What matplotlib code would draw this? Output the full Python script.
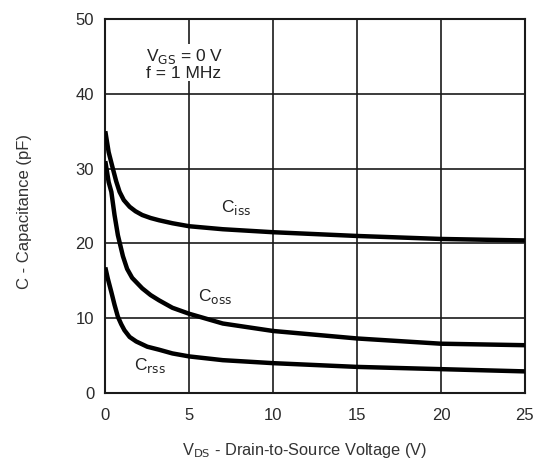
import numpy as np
import matplotlib
matplotlib.use('Agg')
from matplotlib import pyplot as plt

plt.rcParams['font.family'] = ['Liberation Sans', 'DejaVu Sans']

v_iss = [0, 0.2, 0.45, 0.65, 0.85, 1.1, 1.45, 1.8, 2.2, 2.7, 3.2, 4.0, 5.0, 7.0, 10, 15, 20, 25]
c_iss = [35.0, 32.2, 30.0, 28.3, 26.9, 25.8, 24.9, 24.3, 23.8, 23.4, 23.1, 22.7, 22.3, 21.9, 21.5, 21.0, 20.6, 20.4]

v_oss = [0, 0.2, 0.36, 0.55, 0.75, 1.05, 1.3, 1.6, 2.2, 2.7, 3.2, 4.0, 5.0, 7.0, 10, 15, 20, 25]
c_oss = [31.0, 28.2, 26.9, 23.8, 21.1, 18.3, 16.6, 15.4, 14.0, 13.1, 12.4, 11.4, 10.6, 9.3, 8.3, 7.3, 6.6, 6.4]

v_rss = [0, 0.15, 0.36, 0.55, 0.75, 0.95, 1.14, 1.45, 1.84, 2.5, 3.2, 4.0, 5.0, 7.0, 10, 15, 20, 25]
c_rss = [16.8, 15.3, 13.5, 11.8, 10.2, 9.2, 8.4, 7.5, 6.9, 6.2, 5.8, 5.3, 4.9, 4.4, 4.0, 3.5, 3.2, 2.9]

xticks = [0, 5, 10, 15, 20, 25]
yticks = [0, 10, 20, 30, 40, 50]

fig = plt.figure(figsize=(5.4, 4.63), dpi=100)
ax = fig.add_axes([0.195, 0.151, 0.777, 0.808])

for v, c in [(v_iss, c_iss), (v_oss, c_oss), (v_rss, c_rss)]:
    ax.plot(v, c, color='black', lw=3.2, solid_capstyle='butt', solid_joinstyle='round', zorder=3)

ax.set_xlim(0, 25)
ax.set_ylim(0, 50)
ax.set_xticks(xticks)
ax.set_yticks(yticks)
ax.grid(True, color='#1a1a1a', lw=1.2)
ax.set_axisbelow(True)
for s in ax.spines.values():
    s.set_color('#1a1a1a')
    s.set_linewidth(1.5)
ax.tick_params(length=0, labelsize=12, colors='#2a2a2a')
ax.tick_params(axis='x', pad=11)
ax.tick_params(axis='y', pad=8)

# curve labels
ax.text(6.9, 24.8, r'C$_{\rm iss}$', fontsize=12.5, color='#222222', va='center')
ax.text(5.5, 12.9, r'C$_{\rm oss}$', fontsize=12.5, color='#222222', va='center')
ax.text(1.7, 3.7, r'C$_{\rm rss}$', fontsize=12.5, color='#222222', va='center')

# conditions box
ax.text(2.4, 44.0, 'V$_{\\rm GS}$ = 0 V\nf = 1 MHz', fontsize=12.5, color='#222222',
        va='center', ha='left', linespacing=0.95,
        bbox=dict(facecolor='white', edgecolor='none', pad=0.5))

fig.text(0.045, 0.544, 'C - Capacitance (pF)', rotation=90, fontsize=12,
         color='#333333', ha='center', va='center')
fig.text(0.565, 0.028, 'V$_{\\rm DS}$ - Drain-to-Source Voltage (V)', fontsize=11.8,
         color='#333333', ha='center', va='center')

plt.savefig('out.png', dpi=100)
